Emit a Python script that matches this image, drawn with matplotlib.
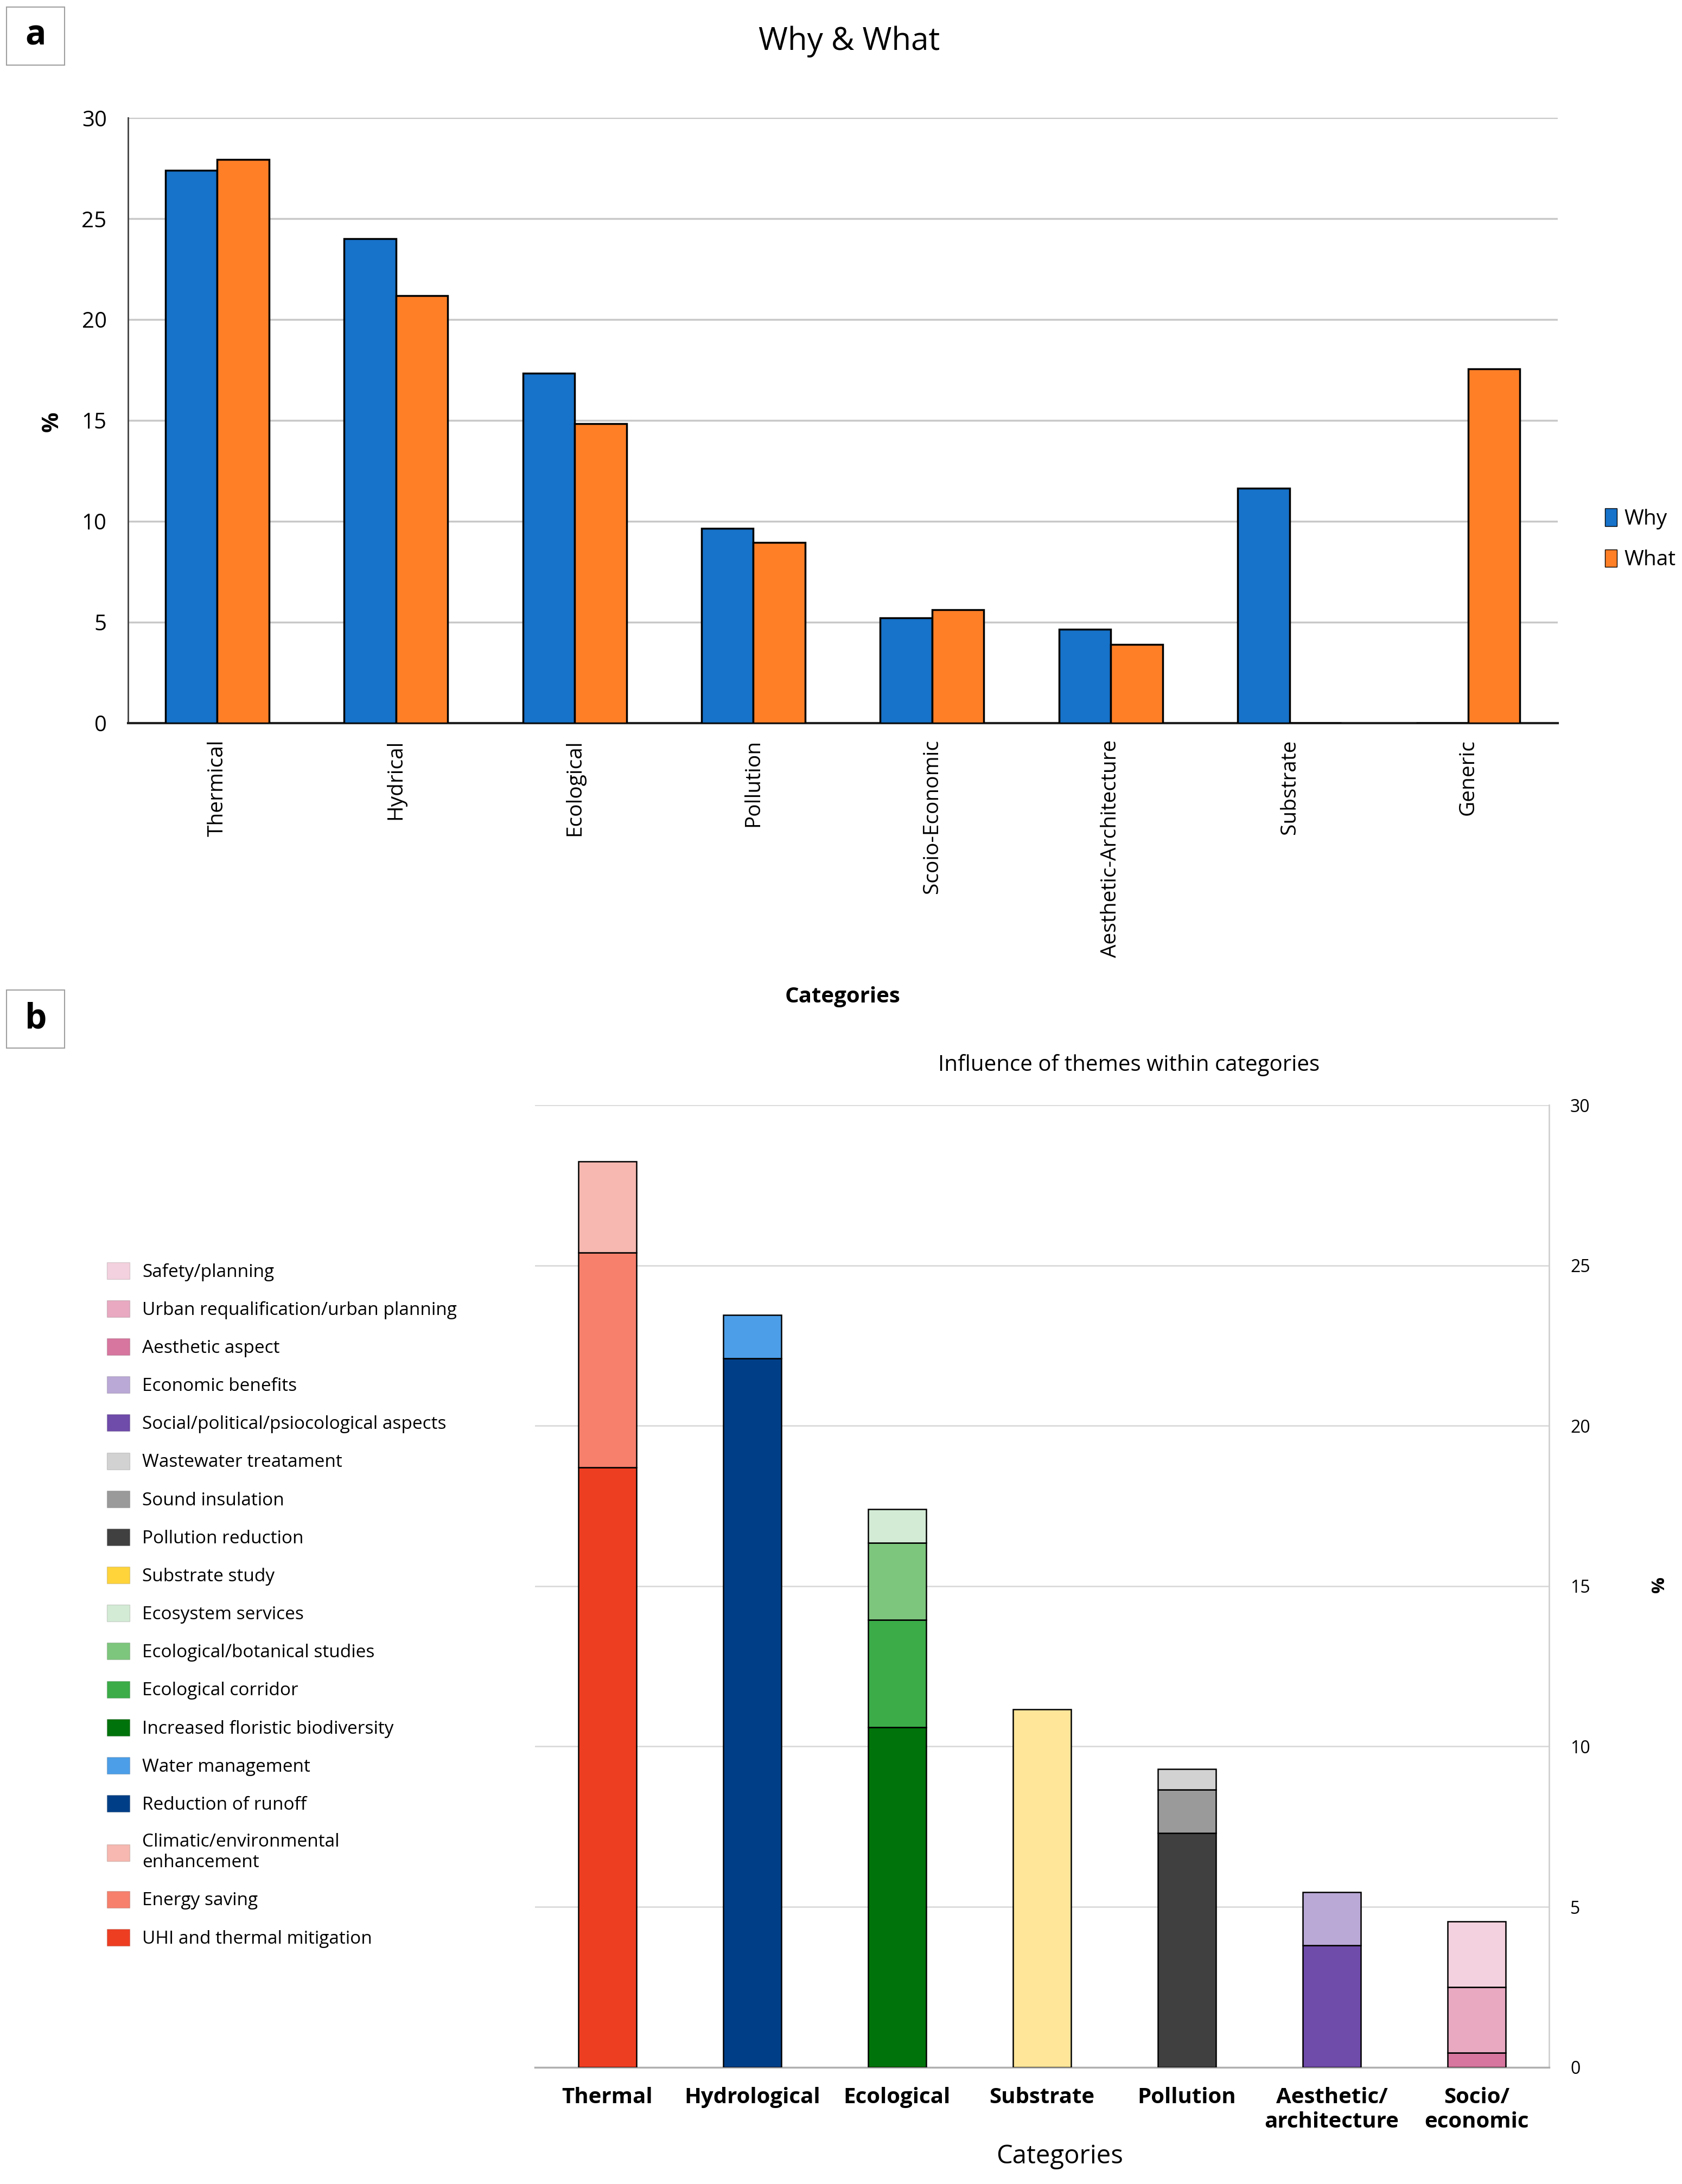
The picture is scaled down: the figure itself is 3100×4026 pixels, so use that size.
import numpy as np
import matplotlib.pyplot as plt
from matplotlib.patches import Patch, Rectangle

plt.rcParams['font.family'] = ['Open Sans', 'DejaVu Sans']

# ---- panel a data
cats_a = ['Thermical', 'Hydrical', 'Ecological', 'Pollution', 'Scoio-Economic',
          'Aesthetic-Architecture', 'Substrate', 'Generic']
why = [27.4, 24.0, 17.35, 9.65, 5.2, 4.65, 11.65, 0]
what = [27.95, 21.2, 14.85, 8.95, 5.6, 3.9, 0, 17.55]

# ---- panel b data (stacked segments, bottom to top)
cats_b = ['Thermal', 'Hydrological', 'Ecological', 'Substrate', 'Pollution',
          'Aesthetic/\narchitecture', 'Socio/\neconomic']
themes = [  # (label, category index, value, bar colour, legend colour)
    ('UHI and thermal mitigation', 0, 18.7, '#EE3E22', '#EE3E22'),
    ('Energy saving', 0, 6.7, '#F6806C', '#F6806C'),
    ('Climatic/environmental\nenhancement', 0, 2.85, '#F6B8B0', '#F6B8B0'),
    ('Reduction of runoff', 1, 22.1, '#003F87', '#003F87'),
    ('Water management', 1, 1.35, '#4C9EE8', '#4C9EE8'),
    ('Increased floristic biodiversity', 2, 10.6, '#00730B', '#00730B'),
    ('Ecological corridor', 2, 3.35, '#3BAC48', '#3BAC48'),
    ('Ecological/botanical studies', 2, 2.4, '#7DC67D', '#7DC67D'),
    ('Ecosystem services', 2, 1.05, '#D3EBD5', '#D3EBD5'),
    ('Substrate study', 3, 11.15, '#FFE699', '#FFD43B'),
    ('Pollution reduction', 4, 7.3, '#404040', '#404040'),
    ('Sound insulation', 4, 1.35, '#9A9A9A', '#9A9A9A'),
    ('Wastewater treatament', 4, 0.65, '#D2D2D2', '#D2D2D2'),
    ('Social/political/psiocological aspects', 5, 3.8, '#6F4BAA', '#6F4BAA'),
    ('Economic benefits', 5, 1.65, '#BAA9D7', '#BAA9D7'),
    ('Aesthetic aspect', 6, 0.45, '#D7769F', '#D7769F'),
    ('Urban requalification/urban planning', 6, 2.05, '#E8A9C1', '#E8A9C1'),
    ('Safety/planning', 6, 2.05, '#F4D1DE', '#F4D1DE'),
]

fig = plt.figure(figsize=(31, 40.26), dpi=100)

# ================= panel a
ax = fig.add_axes([0.076, 0.669, 0.85, 0.277])
x = np.arange(len(cats_a))
w = 0.29
ax.bar(x - w / 2, why, w, color='#1772C9', edgecolor='black', linewidth=2.5, label='Why', zorder=3)
ax.bar(x + w / 2, what, w, color='#FF7F27', edgecolor='black', linewidth=2.5, label='What', zorder=3)
ax.set_xlim(-0.5, len(cats_a) - 0.5)
ax.set_ylim(0, 30)
ax.set_yticks([0, 5, 10, 15, 20, 25, 30])
ax.yaxis.grid(True, color='#C8C8C8', linewidth=2.5, zorder=0)
ax.set_xticks(x)
ax.set_xticklabels(cats_a, rotation=90, fontsize=28)
ax.tick_params(axis='y', labelsize=29, length=0, pad=28)
ax.tick_params(axis='x', length=0, pad=22)
for s in ['top', 'right']:
    ax.spines[s].set_visible(False)
ax.spines['left'].set_color('#404040')
ax.spines['left'].set_linewidth(2)
ax.spines['bottom'].set_color('#202020')
ax.spines['bottom'].set_linewidth(3)
fig.text(0.031, 0.807, '%', rotation=90, fontsize=30, fontweight='bold', ha='center', va='center')
fig.text(0.505, 0.981, 'Why & What', fontsize=42, ha='center', va='center')
fig.text(0.501, 0.5436, 'Categories', fontsize=29, fontweight='bold', ha='center', va='center')
fig.legend(handles=[Patch(facecolor='#1772C9', edgecolor='black', label='Why'),
                    Patch(facecolor='#FF7F27', edgecolor='black', label='What')],
           loc='center left', bbox_to_anchor=(0.943, 0.753), frameon=False, fontsize=28,
           handlelength=0.55, handleheight=0.9, handletextpad=0.35, labelspacing=0.95)

# ================= panel b
axb = fig.add_axes([0.318, 0.0535, 0.603, 0.4405])
bottoms = np.zeros(len(cats_b))
for label, ci, val, col, lcol in themes:
    axb.bar(ci, val, 0.4, bottom=bottoms[ci], color=col, edgecolor='black', linewidth=1.8, zorder=3)
    bottoms[ci] += val
axb.set_xlim(-0.5, len(cats_b) - 0.5)
axb.set_ylim(0, 30)
axb.set_yticks([0, 5, 10, 15, 20, 25, 30])
axb.yaxis.tick_right()
axb.yaxis.grid(True, color='#DADADA', linewidth=2, zorder=0)
axb.tick_params(axis='y', labelsize=23, length=0, pad=28)
axb.set_xticks(np.arange(len(cats_b)))
axb.set_xticklabels(cats_b, fontsize=29, fontweight='bold', linespacing=1.2)
axb.tick_params(axis='x', length=0, pad=26)
for s in ['top', 'left']:
    axb.spines[s].set_visible(False)
axb.spines['right'].set_color('#D0D0D0')
axb.spines['right'].set_linewidth(2)
axb.spines['bottom'].set_color('#B0B0B0')
axb.spines['bottom'].set_linewidth(2.5)
fig.text(0.671, 0.5124, 'Influence of themes within categories', fontsize=29, ha='center', va='center')
fig.text(0.63, 0.0127, 'Categories', fontsize=34, ha='center', va='center')
fig.text(0.984, 0.274, '%', rotation=270, fontsize=24, fontweight='bold', ha='center', va='center')

handles = [Patch(facecolor=t[4], edgecolor='#00000022', label=t[0]) for t in themes[::-1]]
fig.legend(handles=handles, loc='upper left', bbox_to_anchor=(0.054, 0.4295), frameon=False,
           fontsize=24, handlelength=1.25, handleheight=1.05, handletextpad=0.7, labelspacing=1.06)

# panel letters
for y0, letter in [(0.9702, 'a'), (0.5200, 'b')]:
    fig.patches.append(Rectangle((0.004, y0), 0.0345, 0.0266, transform=fig.transFigure,
                                 facecolor='white', edgecolor='#A0A0A0', linewidth=1.5))
    fig.text(0.0213, y0 + 0.0133, letter, fontsize=46, fontweight='bold', ha='center', va='center')

fig.savefig('out.png', dpi=100)
